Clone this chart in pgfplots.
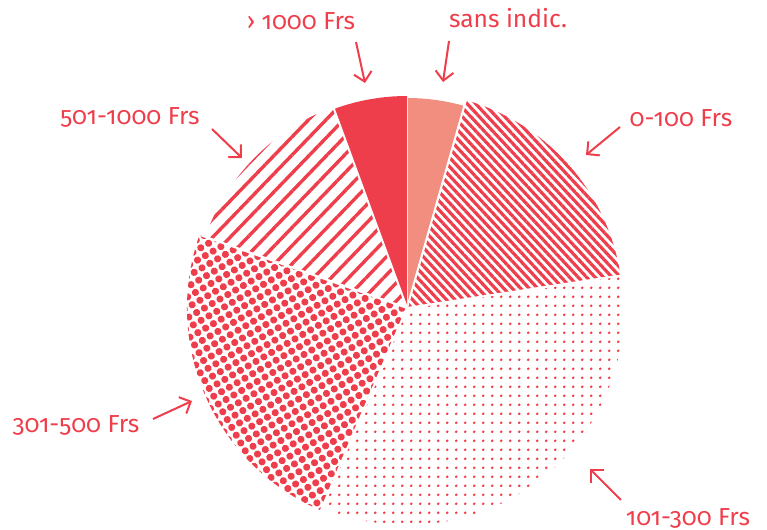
\documentclass[border=0pt]{standalone}
\usepackage{pgfplots}
\pgfplotsset{compat=1.18}
\usepackage{fontspec}
\setmainfont{Fira Sans}[Numbers=OldStyle]
\usetikzlibrary{patterns.meta,arrows.meta}
\definecolor{pred}{HTML}{EF3E4B}
\definecolor{psal}{HTML}{F28E80}
\tikzset{
  slice1/.style={fill=psal},
  slice2/.style={pattern={Lines[angle=-47,distance=3.1pt,line width=1.6pt]},pattern color=pred},
  slice3/.style={pattern={Dots[radius=0.75pt,distance=4.35pt]},pattern color=pred},
  slice4/.style={pattern={Dots[radius=1.8pt,distance=4.5pt,angle=30]},pattern color=pred},
  slice5/.style={pattern={Lines[angle=46,distance=6.3pt,line width=1.7pt]},pattern color=pred},
  slice6/.style={fill=pred},
  lab/.style={font=\fontsize{12.3}{14}\selectfont,text=pred,inner sep=0pt},
  arr/.style={draw=pred,line width=1pt,-{Straight Barb[length=4.5pt,width=9pt,line width=1pt]}},
}
\begin{document}
\begin{tikzpicture}
\useasboundingbox (0,0) rectangle (383.5pt,265pt);
\begin{axis}[
  x=0.5pt, y=0.5pt,
  xmin=0, xmax=767, ymin=0, ymax=530,
  hide axis, clip=false,
  at={(0,0)}, anchor=origin,
]
% percentages (clockwise from top) and outer radius in px
\pgfplotsextra{
  \gdef\sliceA{90}
  \foreach \i/\p/\r in {1/4.4/210, 2/18.2/216, 3/33.8/217, 4/24.0/220, 5/14.0/214, 6/5.6/212}{
    \pgfmathsetmacro\sliceB{\sliceA-3.6*\p}
    \fill[slice\i] (axis cs:407,222) -- ++(\sliceA:{\r*0.5pt}) arc[start angle=\sliceA, end angle=\sliceB, radius={\r*0.5pt}] -- cycle;
    \draw[white,line width=1pt] (axis cs:407,222) -- ++(\sliceA:{\r*0.5pt+2pt});
    \xdef\sliceA{\sliceB}
  }
  \node[lab] at (axis cs:301,509) {› 1000 Frs};
  \node[lab] at (axis cs:508,512) {sans indic.};
  \node[lab] at (axis cs:681,412) {0-100 Frs};
  \node[lab] at (axis cs:130,413) {501-1000 Frs};
  \node[lab] at (axis cs:76,105) {301-500 Frs};
  \node[lab] at (axis cs:688,12) {101-300 Frs};
  \draw[arr] (axis cs:356,488) -- (axis cs:365,447);
  \draw[arr] (axis cs:449,489) -- (axis cs:443,448);
  \draw[arr] (axis cs:620,403) -- (axis cs:586,375);
  \draw[arr] (axis cs:212,401) -- (axis cs:242,372);
  \draw[arr] (axis cs:153,111) -- (axis cs:192,129);
  \draw[arr] (axis cs:621,30) -- (axis cs:590,61);
}
\end{axis}
\end{tikzpicture}
\end{document}
